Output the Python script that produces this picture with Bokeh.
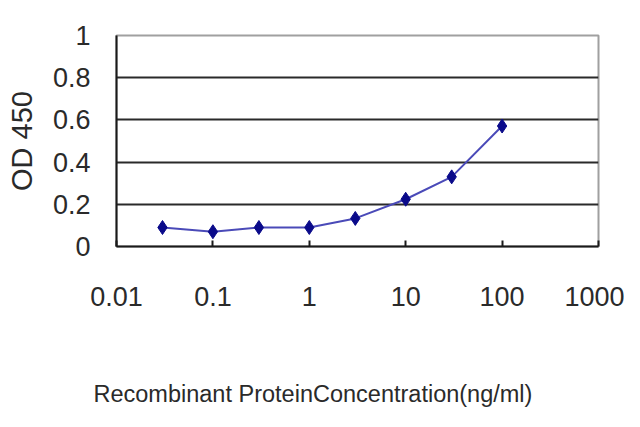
from bokeh.plotting import figure
from bokeh.models import FixedTicker, Range1d, Title
from bokeh.embed import file_html
from bokeh.resources import INLINE

conc = [0.03, 0.1, 0.3, 1, 3, 10, 30, 100]
od450 = [0.09, 0.07, 0.09, 0.09, 0.133, 0.224, 0.33, 0.571]
x_ticks = [0.01, 0.1, 1, 10, 100, 1000]
x_tick_labels = ["0.01", "0.1", "1", "10", "100", "1000"]
y_ticks = [0, 0.2, 0.4, 0.6, 0.8, 1]
y_tick_labels = ["0", "0.2", "0.4", "0.6", "0.8", "1"]

FONT = "Liberation Sans"
TXT = "#2a2a2a"

p = figure(width=624, height=411, x_axis_type="log", output_backend="svg",
           toolbar_location=None, x_range=Range1d(0.01, 1000), y_range=Range1d(0, 1),
           min_border_left=116, min_border_top=35, min_border_right=26, min_border_bottom=165)
p.background_fill_color = "white"
p.border_fill_color = "white"
p.outline_line_color = "#a0a0a0"
p.outline_line_width = 2

p.line(conc, od450, line_color="#4a4ab8", line_width=2)
p.scatter(conc, od450, marker="diamond", size=14, fill_color="#0a0a8a", line_color="#0a0a8a")

# axes
p.xaxis.ticker = FixedTicker(ticks=x_ticks, minor_ticks=[])
p.xaxis.major_label_overrides = {t: l for t, l in zip(x_ticks, x_tick_labels)}
p.yaxis.ticker = FixedTicker(ticks=y_ticks, minor_ticks=[])
p.yaxis.major_label_overrides = {t: l for t, l in zip(y_ticks, y_tick_labels)}

for ax in (p.xaxis, p.yaxis):
    ax.axis_line_color = "#1a1a1a"
    ax.axis_line_width = 2
    ax.major_label_text_font = FONT
    ax.major_label_text_font_size = "27px"
    ax.major_label_text_color = TXT
    ax.minor_tick_line_color = None

p.xaxis.major_tick_in = 6
p.xaxis.major_tick_out = 0
p.xaxis.major_tick_line_color = "#1a1a1a"
p.xaxis.major_tick_line_width = 2
p.xaxis.major_label_standoff = 40
p.xaxis.axis_label = " "
p.xaxis.axis_label_text_font_size = "24px"
p.xaxis.axis_label_standoff = 40

p.yaxis.major_tick_in = 0
p.yaxis.major_tick_out = 0
p.yaxis.major_label_standoff = 26
p.yaxis.axis_label = "OD 450"
p.yaxis.axis_label_text_font = FONT
p.yaxis.axis_label_text_font_size = "29px"
p.yaxis.axis_label_text_font_style = "normal"
p.yaxis.axis_label_text_color = TXT
p.yaxis.axis_label_standoff = 12

# grid
p.xgrid.grid_line_color = None
p.ygrid.ticker = FixedTicker(ticks=[0.2, 0.4, 0.6, 0.8])
p.ygrid.grid_line_color = "#2a2a2a"
p.ygrid.grid_line_width = 2

p.add_layout(Title(text="Recombinant ProteinConcentration(ng/ml)", align="left", offset=-23,
                   text_font=FONT, text_font_size="23.5px", text_font_style="normal",
                   text_color=TXT, standoff=0), "below")

open("out.html", "w").write(file_html(p, INLINE))
